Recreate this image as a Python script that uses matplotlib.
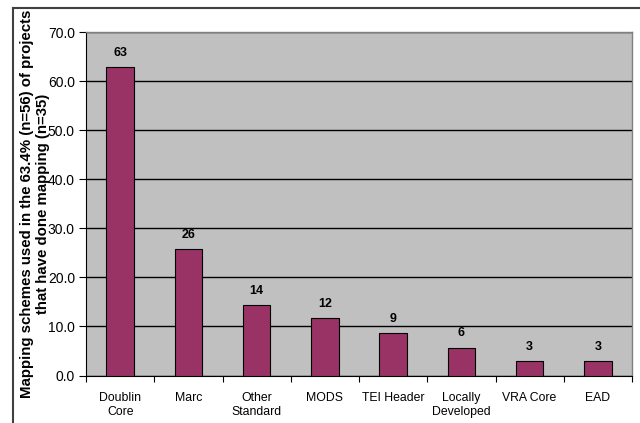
import matplotlib
matplotlib.use("Agg")
import matplotlib.pyplot as plt
from matplotlib.lines import Line2D
import numpy as np

categories = ["Doublin\nCore", "Marc", "Other\nStandard", "MODS", "TEI Header",
              "Locally\nDeveloped", "VRA Core", "EAD"]
values = [62.9, 25.7, 14.3, 11.7, 8.6, 5.7, 2.9, 2.9]
y_ticks = [0, 10, 20, 30, 40, 50, 60, 70]
y_label = "Mapping schemes used in the 63.4% (n=56) of projects\nthat have done mapping (n=35)"

plt.rcParams['font.family'] = ['Liberation Sans', 'DejaVu Sans']

fig = plt.figure(figsize=(6.4, 4.23), dpi=100)
ax = fig.add_axes([86/640, 1 - 375.5/423, (632-86)/640, (375.5-32)/423])
ax.set_facecolor('#C0C0C0')

x = np.arange(len(categories))
ax.bar(x, values, width=0.4, color='#993366', edgecolor='black', linewidth=0.8, zorder=3)

for xi, v in zip(x, values):
    ax.annotate(f"{v:.0f}", (xi, v), xytext=(0, 6), textcoords='offset points',
                ha='center', va='bottom', fontsize=9, fontweight='bold', zorder=4)

ax.set_ylim(0, 70)
ax.set_xlim(-0.5, len(categories) - 0.5)
ax.set_yticks(y_ticks)
ax.set_yticklabels([f"{t:.1f}" for t in y_ticks], fontsize=10)
ax.yaxis.grid(True, color='black', linewidth=1.0, zorder=1)
ax.set_axisbelow(True)

ax.set_xticks(x)
ax.set_xticklabels(categories, fontsize=8.8, linespacing=1.25)
ax.set_xticks(np.arange(-0.5, len(categories)), minor=True)
ax.tick_params(axis='x', which='major', length=0, pad=12)
ax.tick_params(axis='x', which='minor', length=4, direction='out', width=0.8)
ax.tick_params(axis='y', length=5, direction='out', width=0.8, pad=3)

for s in ['top', 'right']:
    ax.spines[s].set_color('#808080')
    ax.spines[s].set_linewidth(1.0)
for s in ['left', 'bottom']:
    ax.spines[s].set_color('black')
    ax.spines[s].set_linewidth(0.8)

fig.text(35/640, 1 - 203.75/423, y_label, rotation=90, ha='center', va='center',
         multialignment='center', fontsize=10.8, fontweight='bold', linespacing=1.2)

fig.add_artist(Line2D([13/640, 1], [1 - 8/423, 1 - 8/423], color='#404040', linewidth=1.5,
                      transform=fig.transFigure))
fig.add_artist(Line2D([13/640, 13/640], [0, 1 - 8/423], color='#404040', linewidth=1.5,
                      transform=fig.transFigure))

fig.savefig("out.png", dpi=100)
